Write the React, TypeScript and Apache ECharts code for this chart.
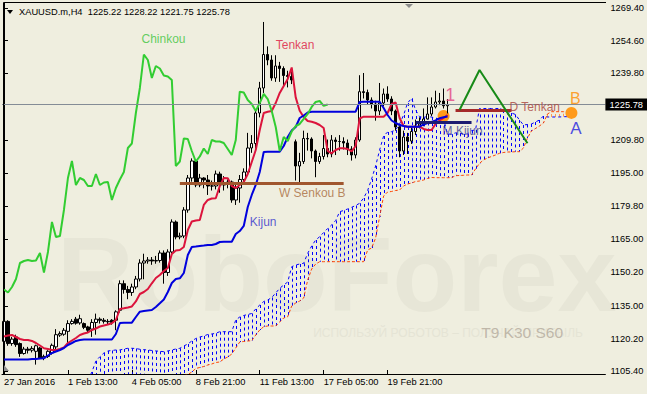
import React, { useEffect, useRef } from 'react';
import * as echarts from 'echarts';

const FONT = '"Liberation Sans", Arial, sans-serif';

// ---- candles (H4 bars, index 0 = first visible bar) ----
const openP = [
  1119, 1128, 1118, 1121, 1118, 1113.5, 1115.5, 1115, 1114.5, 1116,
  1111.5, 1112.2, 1113.8, 1116.5, 1121.8, 1122.2, 1123.5, 1127, 1129, 1127.3,
  1127, 1125.5, 1124.5, 1127.5, 1129, 1128.5, 1128, 1128.5, 1128.5, 1133,
  1145, 1142.38, 1141.03, 1143.5, 1147.1, 1154.32, 1155.23, 1155.68, 1155.23, 1155.45,
  1158.84, 1150.04, 1159.29, 1172.81, 1166.05, 1166.5, 1178.23, 1192.65, 1200.32, 1189.5,
  1192.65, 1191.75, 1189.05, 1189.05, 1194.46, 1189.5, 1190.62, 1190.85, 1182.73, 1188.14,
  1191.98, 1195.36, 1206.18, 1208.21, 1221.96, 1233.24, 1248.34, 1245.86, 1237.74, 1243.16,
  1242.03, 1238.87, 1238.42, 1209, 1198.06, 1200.09, 1210.47, 1210.24, 1204.83, 1200.09,
  1202.35, 1205.96, 1203.47, 1209.79, 1209.11, 1209.11, 1208.43, 1205.73, 1203.02, 1209.79,
  1231.57, 1231.21, 1227.82, 1226.02, 1222.86, 1226.47, 1230.53, 1228.27, 1222.86, 1215.65,
  1204.83, 1211.14, 1209.33, 1213.62, 1216.1, 1217, 1219.26, 1221.51, 1224.67, 1226.92,
  1227.37, 1225.22,
];
const closeP = [
  1128, 1118, 1120, 1117.5, 1113.5, 1115.5, 1115, 1115.8, 1117, 1111.5,
  1112.2, 1114.5, 1117.2, 1122, 1122.5, 1124, 1127, 1128, 1127.2, 1129.2,
  1125.3, 1124, 1127.5, 1129, 1128.5, 1128, 1127.8, 1127.5, 1132.3, 1145,
  1142.38, 1141.03, 1143.5, 1147.1, 1154.32, 1155.23, 1155.68, 1155.23, 1155.45, 1158.84,
  1150.04, 1159.29, 1172.81, 1166.05, 1166.5, 1178.23, 1192.65, 1200.32, 1189.5, 1192.65,
  1191.75, 1189.05, 1189.05, 1194.46, 1189.5, 1190.62, 1190.85, 1182.73, 1188.14, 1191.98,
  1195.36, 1206.18, 1208.21, 1221.96, 1233.24, 1248.34, 1245.86, 1237.74, 1243.16, 1242.03,
  1238.87, 1238.42, 1236.84, 1198.06, 1200.09, 1210.47, 1210.24, 1204.83, 1200.09, 1202.35,
  1205.96, 1203.47, 1209.79, 1209.11, 1209.11, 1208.43, 1205.73, 1203.02, 1209.79, 1231.57,
  1231.21, 1227.82, 1226.02, 1222.86, 1226.47, 1230.53, 1228.27, 1222.86, 1215.65, 1204.83,
  1211.14, 1209.33, 1213.62, 1216.1, 1217, 1219.26, 1221.51, 1224.67, 1226.92, 1227.37,
  1225.22, 1225.78,
];
const lowP = [
  1117, 1117, 1117, 1116.5, 1112, 1113, 1113.5, 1114, 1108.5, 1111,
  1110.5, 1111.5, 1113, 1115.5, 1121, 1121.5, 1117, 1126.5, 1126.5, 1126.5,
  1124.5, 1123, 1121, 1122, 1127, 1127, 1126.5, 1126.5, 1124, 1132,
  1140.5, 1138, 1139.5, 1142.5, 1146, 1147, 1154, 1153.5, 1154, 1154.5,
  1145, 1148.5, 1158.5, 1165, 1165, 1165.5, 1177, 1191, 1188.5, 1188.5,
  1188, 1185, 1187, 1187.5, 1186, 1187, 1188, 1181.5, 1180.5, 1181.5,
  1190, 1194.5, 1204, 1205, 1220, 1231, 1243.5, 1236.5, 1236, 1236,
  1234.5, 1233.5, 1235, 1191.5, 1190.5, 1199, 1205, 1201.5, 1193, 1199,
  1201, 1202, 1202, 1203, 1205, 1205.5, 1203, 1200.5, 1201.5, 1209,
  1228.5, 1226, 1224, 1218.5, 1221, 1225, 1227, 1221, 1214, 1202,
  1203, 1203.5, 1208, 1212, 1215, 1216, 1219, 1220.5, 1224, 1225.5,
  1224, 1221.75,
];
const highP = [
  1131, 1128.5, 1121, 1122, 1118.5, 1116.5, 1116.5, 1116.8, 1117.5, 1116.5,
  1113, 1115, 1118, 1124.5, 1123.5, 1125, 1128.5, 1129, 1130, 1131,
  1127.5, 1126, 1129, 1131.5, 1129.8, 1129.5, 1129, 1129, 1133, 1146.5,
  1146.5, 1144, 1145, 1148.5, 1156, 1158.5, 1157, 1157, 1157.5, 1160,
  1160, 1160.5, 1174, 1173.5, 1168, 1179.5, 1194, 1201.5, 1201, 1194.5,
  1193, 1194, 1191.5, 1196, 1195.5, 1193.5, 1192, 1191.5, 1190, 1194,
  1197, 1213, 1212, 1223.5, 1236, 1263, 1252, 1248, 1248, 1245,
  1243, 1241, 1241, 1210, 1204, 1214, 1213, 1211, 1205.5, 1204,
  1212, 1210, 1212, 1211, 1212, 1211, 1210, 1207, 1211, 1239,
  1240, 1232.5, 1229, 1227.5, 1235.5, 1233, 1234, 1229.5, 1223.5, 1216,
  1214, 1213, 1215.5, 1219, 1220, 1224, 1229, 1229, 1232, 1231,
  1233, 1228.22,
];

// ---- Ichimoku lines ----
const tenkan = [
  1121.19, 1121.64, 1121.86, 1120.96, 1120.06, 1119.61, 1119.61, 1119.16, 1118.25, 1117.13,
  1115.86, 1115.55, 1115.1, 1115.1, 1115.55, 1116.22, 1118.25, 1119.38, 1120.51, 1121.86,
  1122.54, 1122.99, 1124.12, 1124.79, 1125.69, 1126.15, 1126.6, 1127.14, 1128.63, 1133.59,
  1133.9, 1134.26, 1134.71, 1136.97, 1140.35, 1141.25, 1142.6, 1145.17, 1147.56, 1148.91,
  1150.71, 1152.07, 1158.38, 1159.96, 1160.18, 1161.54, 1169.2, 1173.04, 1173.49, 1173.72,
  1180.48, 1182.73, 1183.41, 1183.5, 1189.05, 1192.65, 1192.52, 1189.05, 1188.14, 1189.5,
  1190.85, 1194.45, 1199.86, 1205.28, 1214.3, 1221.96, 1222.55, 1222.86, 1226.47, 1230.98,
  1234.14, 1237.29, 1242.48, 1229, 1223, 1220.16, 1218.35, 1218.04, 1217.45, 1216.55,
  1215.2, 1204.83, 1203.79, 1205.28, 1206.05, 1206.05, 1205.73, 1204.6, 1207.09, 1219.48,
  1220.3, 1220.3, 1220.3, 1220.3, 1220.3, 1220.3, 1221.96, 1226.02, 1226.7, 1219.71,
  1216.1, 1215.79, 1215.79, 1215.79, 1215.79, 1214.75, 1214.3, 1214.3, 1217, 1218.58,
  1219.71, 1221.06,
];
const kijun = [
  1110.81, 1110.81, 1110.81, 1110.81, 1110.81, 1110.81, 1110.81, 1111.04, 1111.04, 1111.26,
  1111.35, 1112.62, 1113.75, 1114.42, 1115.1, 1116, 1117.35, 1118.25, 1119.16, 1119.61,
  1119.83, 1119.83, 1119.83, 1119.83, 1119.83, 1119.83, 1119.83, 1119.83, 1122.31, 1127.27,
  1127.41, 1127.41, 1127.41, 1129.98, 1132.37, 1132.68, 1132.91, 1133.13, 1134.49, 1136.16,
  1137.87, 1141.25, 1145.31, 1147.11, 1147.43, 1149.81, 1157.93, 1161.54, 1161.76, 1161.99,
  1162.21, 1162.44, 1162.44, 1162.89, 1163.79, 1163.93, 1163.93, 1163.93, 1167.4, 1168.75,
  1171.01, 1179.58, 1184.99, 1189.5, 1195.36, 1204.38, 1204.51, 1204.51, 1204.51, 1204.51,
  1207.09, 1211.14, 1214.07, 1215.65, 1219.71, 1220.84, 1222.19, 1222.55, 1222.55, 1222.55,
  1222.55, 1222.55, 1222.55, 1222.55, 1222.55, 1222.55, 1222.55, 1222.55, 1222.55, 1226.92,
  1227.06, 1227.06, 1227.06, 1227.06, 1227.06, 1224.22, 1221.06, 1218.58, 1217.45, 1216.55,
  1216.1, 1215.79, 1215.79, 1215.79, 1215.79, 1216.78, 1217.45, 1217.9, 1218.58, 1219.57,
  1220.02, 1220.39,
];
const CHINKOU_SHIFT = 30; // Chinkou = close plotted 30 bars back
const CLOUD_START = 21; // bar index of the first cloud value below
const spanA = [
  1101.57, 1105.18, 1110.14, 1112.08, 1113.75, 1114.65, 1114.87, 1115.1, 1115.1, 1115.55,
  1115.86, 1115.86, 1115.77, 1115.41, 1115.23, 1115.1, 1114.87, 1114.65, 1114.51, 1114.33,
  1114.65, 1115.1, 1115.55, 1115.86, 1116.9, 1117.8, 1119.16, 1120.28, 1120.96, 1121.41,
  1122.09, 1122.31, 1122.63, 1123.35, 1123.35, 1123.35, 1123.35, 1128.63, 1129.98, 1130.65,
  1131.11, 1131.56, 1133.59, 1135.39, 1136.97, 1137.64, 1138.77, 1140.8, 1142.92, 1144.4,
  1145.76, 1152.66, 1153.42, 1153.87, 1154.19, 1158.7, 1161.99, 1164.69, 1166.18, 1168.08,
  1169.88, 1171.46, 1173.49, 1177.46, 1178, 1178.68, 1179.44, 1180.25, 1181.25, 1183.63,
  1187.02, 1192.2, 1198.06, 1205.28, 1211.59, 1213.39, 1213.53, 1214.3, 1217, 1221.06,
  1226.47, 1228.59, 1223.31, 1220.3, 1220, 1220.4, 1220.1, 1219.7, 1219.2, 1219.2,
  1212.5, 1212.4, 1213, 1212.8, 1212.5, 1212.5, 1214, 1214.4, 1223.99, 1223.99,
  1223.99, 1223.99, 1223.99, 1223.99, 1223.31, 1222.64, 1221.96, 1221.29, 1218.8, 1216.55,
  1216.78, 1217, 1217.9, 1218.8, 1220.61, 1220.16, 1220.16, 1220.16, 1220.16, 1220.3, 1220.3,
];
const spanB = [
  1098, 1098, 1098, 1098, 1098, 1098, 1098, 1098, 1098, 1098,
  1098, 1098, 1098, 1098, 1098, 1098, 1098, 1098, 1098, 1100,
  1100.5, 1101, 1102, 1102.5, 1103.5, 1104, 1105.18, 1106.76, 1107.21, 1107.66,
  1108.33, 1108.79, 1109.46, 1109.69, 1111.04, 1111.94, 1113.29, 1116, 1118.71, 1118.93,
  1119.16, 1119.29, 1121.86, 1124.12, 1125.6, 1125.92, 1125.92, 1125.92, 1127.72, 1129.53,
  1130.11, 1134.94, 1136.29, 1137.19, 1138.55, 1146.66, 1151.62, 1153.87, 1154.91, 1154.91,
  1154.91, 1154.91, 1154.91, 1154.91, 1154.91, 1154.91, 1154.91, 1154.91, 1154.91, 1154.91,
  1160.18, 1161.09, 1165.6, 1175.2, 1184.54, 1186.34, 1186.57, 1187.02, 1187.24, 1189.05,
  1189.95, 1190.4, 1191.07, 1191.3, 1191.75, 1192.43, 1192.88, 1192.79, 1192.79, 1192.79,
  1192.79, 1192.79, 1193.69, 1193.78, 1193.87, 1194, 1194, 1196.71, 1199.28, 1200.77,
  1201.67, 1202.35, 1203.02, 1203.79, 1204.15, 1204.38, 1204.38, 1204.51, 1204.51, 1206.18,
  1210.69, 1213.85, 1214.97, 1216.1, 1217.45, 1221.51, 1222.55, 1222.55, 1222.55, 1222.55, 1222.55,
];

// ---- axes ----
const SLOTS = 151;
const xTickIdx = [0, 16, 32, 48, 64, 80, 96];
const xTickLabels = ['27 Jan 2016', '1 Feb 13:00', '4 Feb 05:00', '8 Feb 21:00', '11 Feb 13:00', '17 Feb 05:00', '19 Feb 21:00'];
const yTickValues = [1105.4, 1120.2, 1135.0, 1150.2, 1165.0, 1179.8, 1195.0, 1209.8, 1239.8, 1254.6, 1269.4];
const Y_MIN = 1104.27;
const Y_MAX = 1271.56;

// ---- drawn analysis objects ----
const zigIdx = [114, 119, 131];
const zigPrice = [1223.31, 1241.35, 1208.3];
const dotIdx = [110, 142];
const dotPrice = [1220.6, 1222.0];
const levelNames = ['W Senkou B', 'D Tenkan', 'M Kijun'];
const levelFrom = [44, 113, 103];
const levelTo = [85, 127, 117];
const levelPrice = [1190.26, 1223.31, 1217.9];

export default function App() {
  const ref = useRef<HTMLDivElement>(null);
  useEffect(() => {
    document.body.style.margin = '0';
    if (!ref.current) return;
    const chart = echarts.init(ref.current, undefined, { renderer: 'svg' });
    const last = closeP.length - 1;
    const lastClose = closeP[last];
    const cats = Array.from({ length: SLOTS }, (_, i) => String(i));
    const labelAt = new Map<number, string>(xTickIdx.map((k, j) => [k, xTickLabels[j]]));
    const pad = (n: number, arr: number[]) => (Array(n).fill(null) as (number | null)[]).concat(arr);
    const chinkou = closeP.slice(CHINKOU_SHIFT);
    const cloudData = spanA.map((a, k) => [CLOUD_START + k, a, spanB[k]]);
    const levelColors = ['#A0562E', '#A52A2A', '#1C1C72'];

    const notes = [
      { text: 'Chinkou', v: [34.4, 1255.3], color: '#3CC43C', pos: 'right', size: 12 },
      { text: 'Tenkan', v: [68, 1252.8], color: '#DC143C', pos: 'right', size: 12 },
      { text: 'Kijun', v: [61.5, 1172.8], color: '#3030CC', pos: 'right', size: 12 },
      { text: 'W Senkou B', v: [85.5, 1185.9], color: '#A86B3C', pos: 'left', size: 12 },
      { text: 'D Tenkan', v: [126.5, 1224.8], color: '#A8403A', pos: 'right', size: 12 },
      { text: 'M Kijun', v: [109.75, 1213.9], color: '#3C3C8C', pos: 'right', size: 12 },
      { text: '1', v: [110.4, 1230.1], color: '#E3407F', pos: 'right', size: 18 },
      { text: 'B', v: [143, 1228.7], color: '#FF8C00', pos: 'inside', size: 16 },
      { text: 'A', v: [143.1, 1215.0], color: '#2020E0', pos: 'inside', size: 17 },
      { text: 'T9 K30 S60', v: [119.4, 1123.0], color: '#B4AA9C', pos: 'right', size: 15.5 },
    ];

    const title = 'XAUUSD.m,H4  ' + [openP[last], highP[last], lowP[last], closeP[last]].map((v) => v.toFixed(2)).join(' ');

    const option: any = {
      animation: false,
      backgroundColor: '#EFEEDF',
      grid: { left: 2, right: 41, top: 3, bottom: 20 },
      xAxis: [
        {
          type: 'category',
          data: cats,
          boundaryGap: true,
          axisLine: { show: true, lineStyle: { color: '#000', width: 1 } },
          axisTick: { show: true, inside: true, length: 4, alignWithLabel: true, interval: (i: number) => labelAt.has(i), lineStyle: { color: '#000' } },
          axisLabel: {
            interval: (i: number) => labelAt.has(i),
            formatter: (_v: string, i: number) => labelAt.get(i) ?? '',
            align: 'left', margin: 3, color: '#000', fontFamily: FONT, fontSize: 9.3,
          },
          splitLine: { show: false },
        },
        { type: 'value', min: -0.5, max: SLOTS - 0.5, show: false },
      ],
      yAxis: {
        type: 'value', position: 'right', min: Y_MIN, max: Y_MAX,
        axisLine: { show: true, lineStyle: { color: '#000' } },
        axisTick: { show: true, length: 4, customValues: yTickValues, lineStyle: { color: '#000' } },
        axisLabel: { customValues: yTickValues, formatter: (v: number) => v.toFixed(2), margin: 5, color: '#000', fontFamily: FONT, fontSize: 9.3 },
        splitLine: { show: false },
      },
      graphic: [
        { type: 'text', x: 57, y: 274, z: 0, silent: true, style: { text: 'RoboForex', font: `bold 106px ${FONT}`, fill: '#E7E6D7', align: 'left', verticalAlign: 'middle' } },
        { type: 'text', x: 583, y: 333, z: 0, silent: true, style: { text: 'ИСПОЛЬЗУЙ РОБОТОВ – ПОЛУЧАЙ ПРИБЫЛЬ', font: `12px ${FONT}`, fill: '#E5E4D5', align: 'right', verticalAlign: 'middle' } },
        { type: 'polygon', z: 10, silent: true, shape: { points: [[7, 10], [13, 10], [10, 14]] }, style: { fill: '#000' } },
        { type: 'text', x: 19, y: 12, z: 10, silent: true, style: { text: title, font: `9.3px ${FONT}`, fill: '#000', align: 'left', verticalAlign: 'middle' } },
        { type: 'polygon', z: 10, silent: true, shape: { points: [[405, 4], [413, 4], [409, 8]] }, style: { fill: '#8C8C8C' } },
        { type: 'polygon', z: 10, silent: true, shape: { points: [[4, 371], [9, 371], [4, 365]] }, style: { fill: '#8C8C8C' } },
        { type: 'polyline', z: 10, silent: true, shape: { points: [[3.5, 374], [3.5, 2.5], [606, 2.5]] }, style: { stroke: '#000', lineWidth: 1, fill: null } },
      ],
      series: [
        {
          type: 'custom', xAxisIndex: 1, yAxisIndex: 0, z: 1, silent: true,
          data: cloudData, encode: { x: 0, y: [1, 2] },
          renderItem: (params: any, api: any) => {
            const x = api.value(0), a = api.value(1), b = api.value(2);
            const pa = api.coord([x, a]);
            const pb = api.coord([x, b]);
            const cs = params.coordSys;
            const top = cs.y, bottom = cs.y + cs.height;
            const y1 = Math.max(top, Math.min(bottom, pa[1]));
            const y2 = Math.max(top, Math.min(bottom, pb[1]));
            const px = Math.round(pa[0]) + 0.5;
            return {
              type: 'line', silent: true,
              shape: { x1: px, y1, x2: px, y2 },
              style: { stroke: a >= b ? '#0000FF' : '#FF9A50', lineWidth: 1, lineDash: [3, 3] },
            };
          },
        },
        { type: 'line', name: 'Senkou A', data: pad(CLOUD_START, spanA), symbol: 'none', z: 2, silent: true, lineStyle: { color: '#0000FF', width: 1, type: [3, 3] } },
        { type: 'line', name: 'Senkou B', data: pad(CLOUD_START, spanB), symbol: 'none', z: 2, silent: true, lineStyle: { color: '#FF4500', width: 1, type: [3, 2] } },
        {
          type: 'scatter', xAxisIndex: 1, z: 2, silent: true, symbolSize: 12,
          data: dotIdx.map((x, k) => [x, dotPrice[k]]), itemStyle: { color: '#FF9A1A', opacity: 1 },
        },
        {
          type: 'candlestick', name: 'XAUUSD', z: 3, silent: true, barWidth: 3,
          data: openP.map((o, i) => [o, closeP[i], lowP[i], highP[i]]),
          itemStyle: { color: '#FFFFFF', color0: '#000000', borderColor: '#000000', borderColor0: '#000000', borderWidth: 1 },
          markLine: {
            silent: true, symbol: ['none', 'none'], animation: false,
            data: [{
              yAxis: lastClose,
              lineStyle: { color: '#848C96', width: 1, type: 'solid' },
              label: { show: true, position: 'end', distance: 0, formatter: lastClose.toFixed(2), color: '#FFFFFF', backgroundColor: '#000000', padding: [2, 4, 1, 4], fontFamily: FONT, fontSize: 9.3 },
            }],
          },
        },
        { type: 'line', name: 'Tenkan', data: tenkan, symbol: 'none', z: 4, silent: true, lineStyle: { color: '#DC143C', width: 2 } },
        { type: 'line', name: 'Kijun', data: kijun, symbol: 'none', z: 4, silent: true, lineStyle: { color: '#0000DD', width: 2 } },
        { type: 'line', name: 'Chinkou', data: chinkou, symbol: 'none', z: 4, silent: true, lineStyle: { color: '#32CD32', width: 2 } },
        {
          type: 'line', name: 'Zigzag', xAxisIndex: 1, z: 5, silent: true, symbol: 'none',
          data: zigIdx.map((x, k) => [x, zigPrice[k]]), lineStyle: { color: '#178A17', width: 2 },
          markLine: {
            silent: true, symbol: ['none', 'none'], animation: false, label: { show: false },
            data: levelNames.map((n, k) => [
              { name: n, coord: [levelFrom[k], levelPrice[k]], lineStyle: { color: levelColors[k], width: 3, type: 'solid' } },
              { coord: [levelTo[k], levelPrice[k]] },
            ]),
          },
        },
        {
          type: 'scatter', xAxisIndex: 1, z: 6, silent: true, symbolSize: 0.1, itemStyle: { color: 'rgba(0,0,0,0)' },
          data: notes.map((n) => ({
            value: n.v,
            label: { show: true, formatter: n.text, position: n.pos, distance: 0, color: n.color, fontFamily: FONT, fontSize: n.size },
          })),
        },
      ],
    };
    chart.setOption(option);
    return () => chart.dispose();
  }, []);
  return <div ref={ref} style={{ width: 647, height: 394 }} />;
}
